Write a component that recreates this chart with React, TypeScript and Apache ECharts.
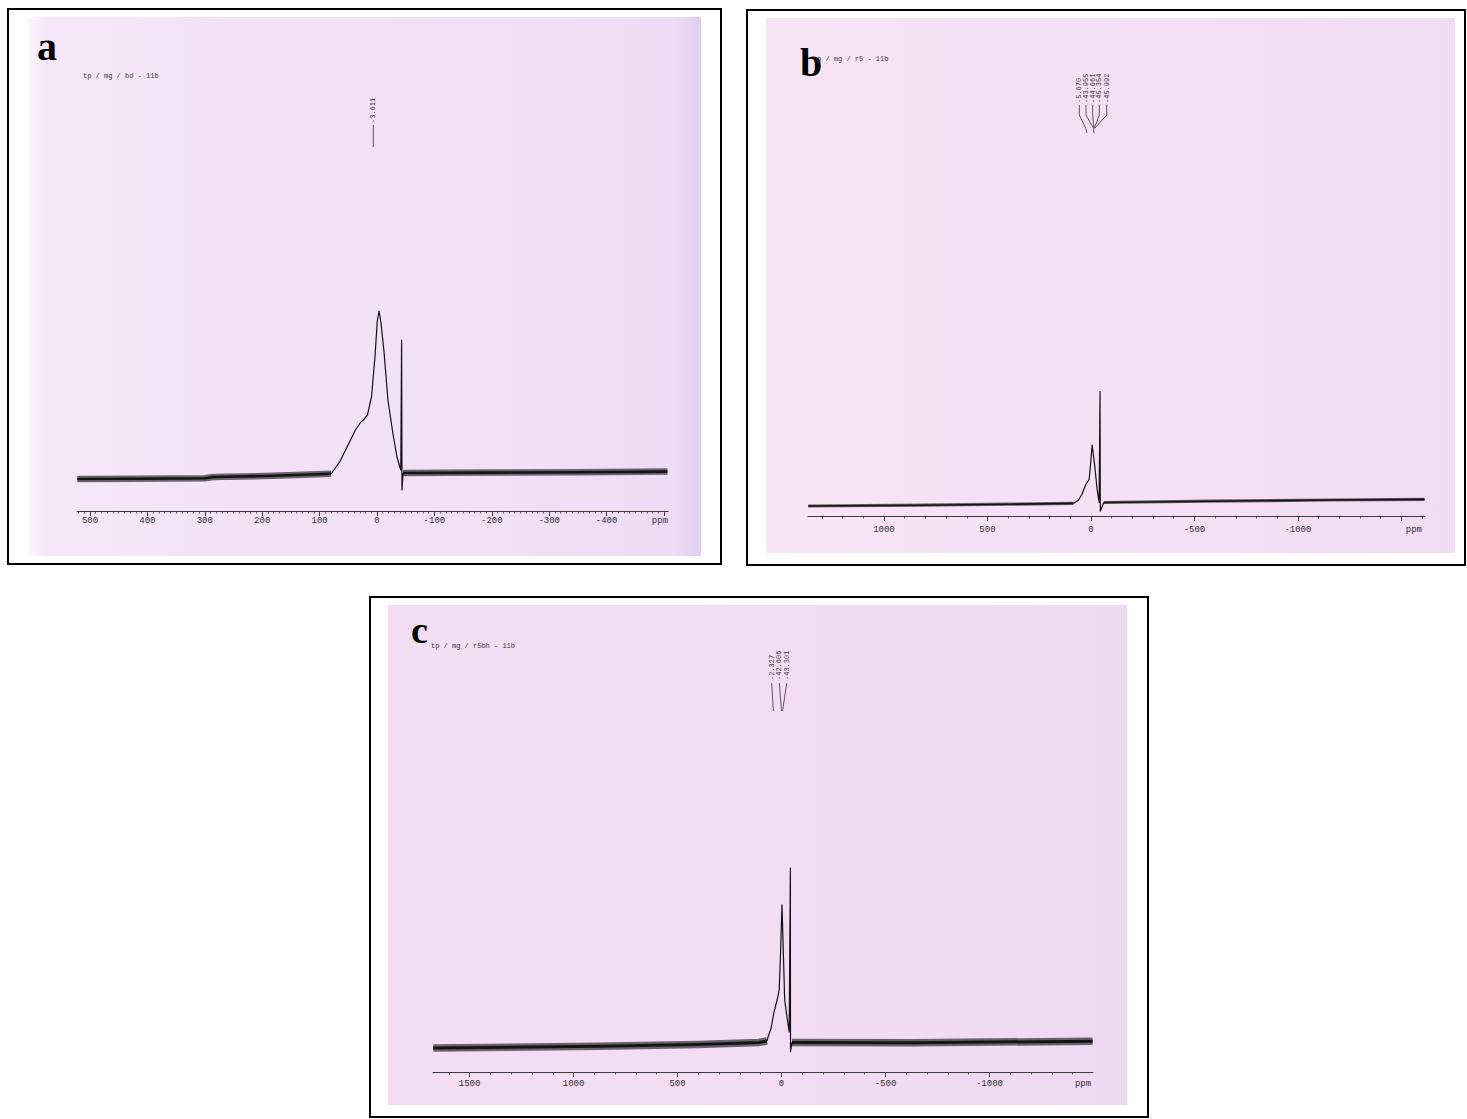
import { useEffect, useRef } from "react";
import * as echarts from "echarts";

const W = 1467;
const H = 1119;

// ---------- Spectrum a : tp / mg / bd - 11b  ([shift ppm, intensity]) ----------
const A_TITLE = "tp / mg / bd - 11b";
const A_RANGE = [-507, 522.6];
const A_BASE_LEFT = [[522, 16], [420, 16.1], [300, 16.4], [285, 17.0], [180, 17.6], [80, 18.6]];
const A_PEAK = [
  [80, 18.6], [77.6, 19.5], [65, 24.5], [52, 32], [37.5, 40.5], [28, 44.5], [23.6, 45.5], [16.6, 48],
  [9.6, 57], [3.5, 77], [-0.5, 95], [-3.611, 100], [-7, 94], [-12, 80.5], [-19.1, 55.5],
  [-27.6, 39], [-34.8, 27], [-41.5, 20.5], [-42.9, 85.5], [-43.6, 10.5], [-45.5, 19],
];
const A_BASE_RIGHT = [[-45.5, 19], [-200, 19.2], [-350, 19.4], [-506, 19.7]];
const A_TICKS = [500, 400, 300, 200, 100, 0, -100, -200, -300, -400, -500];
const A_LABELS = [500, 400, 300, 200, 100, 0, -100, -200, -300, -400];
const A_PPM_AT = -493;
const A_PEAK_SHIFTS = [-3.611];

// ---------- Spectrum b : r5 - 11b ----------
const B_TITLE = "p / mg / r5 - 11b";
const B_RANGE = [-1614, 1367];
const B_BASE_LEFT = [[1366, 5.0], [816, 5.4], [400, 5.9], [84.5, 6.3]];
const B_PEAK = [
  [84.5, 6.3], [60, 8], [44, 10.75], [24.8, 15.75], [8.8, 18.25], [1.1, 26.75], [-5.67, 35.4],
  [-18.7, 24.9], [-29.8, 13.25], [-39.5, 6.75], [-43.955, 62.25], [-45.3, 2.4], [-62, 6.75],
];
const B_BASE_RIGHT = [[-62, 6.75], [-565, 7.4], [-1157, 8.0], [-1612, 8.3]];
const B_TICKS = [1000, 500, 0, -500, -1000, -1500];
const B_LABELS = [1000, 500, 0, -500, -1000];
const B_PPM_AT = -1560;
const B_PEAK_SHIFTS = [-5.67, -43.955, -44.661, -45.354, -45.992];

// ---------- Spectrum c : r5bh - 11b ----------
const C_TITLE = "tp / mg / r5bh - 11b";
const C_RANGE = [-1498, 1676];
const C_BASE_LEFT = [[1675, 12.0], [879, 12.9], [400, 13.8], [107, 14.8], [70, 15.5]];
const C_PEAK = [
  [70, 15.5], [64, 17.7], [50, 22], [36, 30], [21, 36], [11, 41], [4, 61], [-2.327, 83.6],
  [-8.5, 61], [-15.3, 36], [-28.3, 26], [-37, 20], [-42.606, 102], [-43.301, 10.2], [-50, 14.7],
];
const C_BASE_RIGHT = [[-50, 14.7], [-630, 14.6], [-1496, 15.4]];
const C_TICKS = [1500, 1000, 500, 0, -500, -1000];
const C_LABELS = [1500, 1000, 500, 0, -500, -1000];
const C_PPM_AT = -1450;
const C_PEAK_SHIFTS = [-2.327, -42.606, -43.301];

const INK = "#111111";
const AXIS_INK = "#3c3c3c";
const MONO = "'Liberation Mono', 'DejaVu Sans Mono', monospace";
const SERIF = "'Liberation Serif', 'DejaVu Serif', serif";

function steps(from: number, to: number, step: number) {
  const out: number[] = [];
  for (let v = from; v >= to; v -= step) out.push(v);
  return out;
}

// plot area of each spectrum: left/right edge of the ppm axis, axis line y, px per intensity unit,
// and the drawn thickness of the noisy baseline
const PANELS = [
  { x0: 77, x1: 668, axisY: 511, yMax: 120, k: 2, labelMargin: 5, band: 6.5, core: 2.6 },
  { x0: 808, x1: 1425, axisY: 516, yMax: 100, k: 2, labelMargin: 9, band: 3.2, core: 1.6 },
  { x0: 433, x1: 1093, axisY: 1072, yMax: 130, k: 2, labelMargin: 7, band: 7.5, core: 3 },
];

function majorAxis(gridIndex: number, range: number[], ticks: number[], labels: number[], ppmAt: number, margin: number) {
  return {
    type: "value",
    gridIndex,
    min: range[0],
    max: range[1],
    inverse: true,
    position: "bottom",
    axisLine: { show: true, onZero: false, lineStyle: { color: AXIS_INK, width: 1 } },
    axisTick: { show: true, customValues: ticks, length: 5, lineStyle: { color: AXIS_INK, width: 1 } },
    axisLabel: {
      show: true,
      customValues: [...labels, ppmAt],
      formatter: (v: number) => (Math.abs(v - ppmAt) < 1e-6 ? "ppm" : String(v)),
      margin,
      color: "#333",
      fontFamily: MONO,
      fontSize: 9,
    },
    splitLine: { show: false },
  };
}

function minorAxis(gridIndex: number, range: number[], ticks: number[]) {
  return {
    type: "value",
    gridIndex,
    min: range[0],
    max: range[1],
    inverse: true,
    position: "bottom",
    offset: 0,
    axisLine: { show: false },
    axisTick: { show: true, customValues: ticks, length: 2.5, lineStyle: { color: AXIS_INK, width: 0.8 } },
    axisLabel: { show: false },
    splitLine: { show: false },
  };
}

function lineSeries(panel: number, data: number[][], width: number, opacity: number) {
  return {
    type: "line",
    xAxisIndex: panel * 2,
    yAxisIndex: panel,
    data,
    symbol: "none",
    showSymbol: false,
    silent: true,
    z: 3,
    lineStyle: { color: INK, width, opacity, join: "round" },
  };
}

function spectrum(panel: number, left: number[][], peak: number[][], right: number[][]) {
  const p = PANELS[panel];
  return [
    lineSeries(panel, left, p.band, 0.6),
    lineSeries(panel, right, p.band, 0.6),
    lineSeries(panel, left, p.core, 0.95),
    lineSeries(panel, right, p.core, 0.95),
    lineSeries(panel, peak, 1.2, 1),
  ];
}

// sheet of paper with a horizontal shading: [offset, colour] stops
function paper(x: number, y: number, w: number, h: number, stops: [number, string][]) {
  return {
    type: "rect",
    silent: true,
    z: -10,
    shape: { x, y, width: w, height: h },
    style: {
      fill: new echarts.graphic.LinearGradient(
        0, 0, 1, 0,
        stops.map(([offset, color]) => ({ offset, color }))
      ),
    },
  };
}

function frame(x: number, y: number, w: number, h: number) {
  return {
    type: "rect",
    silent: true,
    z: 30,
    shape: { x, y, width: w, height: h },
    style: { fill: "none", stroke: "#000", lineWidth: 2 },
  };
}

function text(t: string, x: number, y: number, opts: any = {}) {
  return {
    type: "text",
    silent: true,
    z: 30,
    x,
    y,
    rotation: opts.rotation || 0,
    style: {
      text: t,
      fontFamily: opts.fontFamily || MONO,
      fontSize: opts.fontSize || 7,
      fontWeight: opts.fontWeight || "normal",
      fill: opts.fill || "#3a3a3a",
      align: opts.align || "left",
      verticalAlign: opts.verticalAlign || "middle",
    },
  };
}

function leader(points: number[][]) {
  return {
    type: "polyline",
    silent: true,
    z: 30,
    shape: { points },
    style: { stroke: "#4a4a4a", lineWidth: 0.9, fill: "none" },
  };
}

// vertical peak-shift labels, reading bottom to top
function shiftLabels(values: number[], xs: number[], bottom: number) {
  return values.map((v, i) =>
    text(v.toFixed(3), xs[i], bottom, { rotation: Math.PI / 2, fontSize: 7, verticalAlign: "middle" })
  );
}

function buildOption() {
  const grids = PANELS.map((p) => ({
    left: p.x0,
    right: W - p.x1,
    top: p.axisY - p.yMax * p.k,
    height: p.yMax * p.k,
    outerBoundsMode: "none",
    containLabel: false,
  }));

  const xAxis = [
    majorAxis(0, A_RANGE, A_TICKS, A_LABELS, A_PPM_AT, PANELS[0].labelMargin),
    minorAxis(0, A_RANGE, steps(520, -500, 10)),
    majorAxis(1, B_RANGE, B_TICKS, B_LABELS, B_PPM_AT, PANELS[1].labelMargin),
    minorAxis(1, B_RANGE, steps(1300, -1600, 100)),
    majorAxis(2, C_RANGE, C_TICKS, C_LABELS, C_PPM_AT, PANELS[2].labelMargin),
    minorAxis(2, C_RANGE, steps(1600, -1400, 100)),
  ];

  const yAxis = PANELS.map((p, i) => ({
    type: "value",
    gridIndex: i,
    min: 0,
    max: p.yMax,
    show: false,
    splitLine: { show: false },
  }));

  const series = [
    ...spectrum(0, A_BASE_LEFT, A_PEAK, A_BASE_RIGHT),
    ...spectrum(1, B_BASE_LEFT, B_PEAK, B_BASE_RIGHT),
    ...spectrum(2, C_BASE_LEFT, C_PEAK, C_BASE_RIGHT),
  ];

  const graphic = [
    // paper sheets
    paper(28, 17, 673, 539, [
      [0, "#fcf7fd"], [0.025, "#f5e7f8"], [0.3, "#f3e2f6"], [0.7, "#f2e0f6"], [0.96, "#eedbf5"], [1, "#e0cff1"],
    ]),
    paper(766, 18, 689, 535, [
      [0, "#f7e5f5"], [0.3, "#f5e1f5"], [0.7, "#f4dff4"], [1, "#f0dcf3"],
    ]),
    paper(388, 605, 739, 500, [
      [0, "#f3ddf3"], [0.4, "#f2ddf3"], [0.8, "#f0dbf3"], [1, "#eed9f2"],
    ]),
    // frames
    frame(8, 9, 713, 555),
    frame(747, 10, 718, 555),
    frame(370, 597, 778, 520),
    // panel letters
    text("a", 37, 46, { fontFamily: SERIF, fontSize: 40, fontWeight: "bold", fill: "#000" }),
    text("b", 800, 62, { fontFamily: SERIF, fontSize: 40, fontWeight: "bold", fill: "#000" }),
    text("c", 411, 630, { fontFamily: SERIF, fontSize: 38, fontWeight: "bold", fill: "#000" }),
    // acquisition titles
    text(A_TITLE, 83, 76),
    text(B_TITLE, 817, 59),
    text(C_TITLE, 431, 646),
    // peak-shift labels and leaders
    ...shiftLabels(A_PEAK_SHIFTS, [373.3], 123),
    leader([[373.3, 125], [373.3, 147]]),
    ...shiftLabels(B_PEAK_SHIFTS, [1079.3, 1086, 1092.7, 1099.3, 1106.7], 103),
    leader([[1079.3, 105], [1079.3, 115], [1085.8, 128.3], [1086.7, 133]]),
    leader([[1086, 105], [1086, 115], [1093.4, 128.3], [1094, 133]]),
    leader([[1092.7, 105], [1092.7, 115], [1093.8, 128.3]]),
    leader([[1099.3, 105], [1099.3, 115], [1094.3, 128.3]]),
    leader([[1106.7, 105], [1106.7, 115], [1094.7, 128.3]]),
    ...shiftLabels(C_PEAK_SHIFTS, [771.7, 779.3, 786.7], 680),
    leader([[771.7, 683], [773.4, 711]]),
    leader([[779.3, 683], [781.5, 711]]),
    leader([[786.7, 683], [782.6, 711]]),
  ];

  return {
    animation: false,
    backgroundColor: "#ffffff",
    textStyle: { fontFamily: MONO },
    grid: grids,
    xAxis,
    yAxis,
    series,
    graphic: { elements: graphic },
  };
}

export default function App() {
  const ref = useRef<HTMLDivElement>(null);
  useEffect(() => {
    if (!ref.current) return;
    const chart = echarts.init(ref.current, null, { renderer: "svg", width: W, height: H });
    chart.setOption(buildOption() as any);
    return () => chart.dispose();
  }, []);
  return (
    <div
      ref={ref}
      style={{ position: "absolute", left: 0, top: 0, width: W, height: H, background: "#fff" }}
    />
  );
}
